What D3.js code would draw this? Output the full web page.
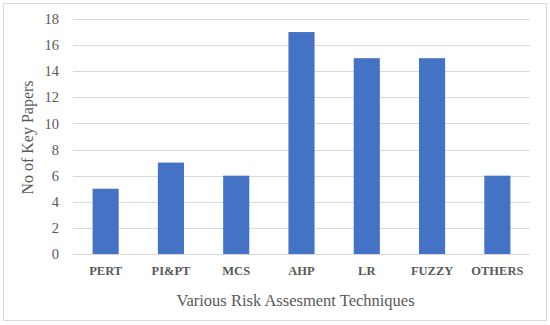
<!DOCTYPE html>
<html>
<head>
<meta charset="utf-8">
<script src="https://cdn.jsdelivr.net/npm/d3@7"></script>
<style>
  body { margin: 0; background: #fff; }
  text { font-family: "Liberation Serif", "DejaVu Serif", serif; fill: #595959; }
</style>
</head>
<body>
<svg id="chart" width="550" height="325"></svg>
<script>
const categories = ["PERT", "PI&PT", "MCS", "AHP", "LR", "FUZZY", "OTHERS"];
const keyPapers = [5, 7, 6, 17, 15, 15, 6];
const yTicks = [0, 2, 4, 6, 8, 10, 12, 14, 16, 18];

const svg = d3.select("#chart");
const margin = {left: 73, right: 20, top: 19, bottom: 71};
const width = 550, height = 325;

// outer frame
svg.append("rect").attr("x", 3.5).attr("y", 3.5).attr("width", 543).attr("height", 317)
    .attr("fill", "#fff").attr("stroke", "#d9d9d9");

const x = d3.scaleBand().domain(categories).range([margin.left, width - margin.right]).paddingInner(0.6).paddingOuter(0.3);
const y = d3.scaleLinear().domain([0, 18]).range([height - margin.bottom, margin.top]);

// gridlines
svg.append("g").selectAll("line").data(yTicks).enter().append("line")
    .attr("x1", margin.left).attr("x2", width - margin.right)
    .attr("y1", d => Math.round(y(d)) + 0.5).attr("y2", d => Math.round(y(d)) + 0.5)
    .attr("stroke", "#d9d9d9").attr("stroke-width", 1.2);

svg.append("g").selectAll("rect").data(keyPapers).enter().append("rect")
    .attr("x", (d, i) => x(categories[i])).attr("width", x.bandwidth())
    .attr("y", d => y(d)).attr("height", d => y(0) - y(d))
    .attr("fill", "#4472c4");

const yAxis = svg.append("g").attr("transform", `translate(${margin.left},0)`)
    .call(d3.axisLeft(y).tickValues(yTicks).tickSize(0).tickPadding(14));
yAxis.select(".domain").remove();
yAxis.selectAll("text").style("font-size", "14.5px").attr("fill", "#595959");

const xAxis = svg.append("g").attr("transform", `translate(0,${height - margin.bottom})`)
    .call(d3.axisBottom(x).tickSize(0).tickPadding(12));
xAxis.select(".domain").remove();
xAxis.selectAll("text").style("font-size", "12.5px").style("font-weight", "bold").attr("fill", "#595959");

svg.append("text").attr("x", (margin.left + width - margin.right) / 2 - 6).attr("y", 306)
    .attr("text-anchor", "middle").style("font-size", "16.5px").text("Various Risk Assesment Techniques");

svg.append("text").attr("transform", `translate(33,${(margin.top + height - margin.bottom) / 2 + 1}) rotate(-90)`)
    .attr("text-anchor", "middle").style("font-size", "16px").text("No of Key Papers");
</script>
</body>
</html>
